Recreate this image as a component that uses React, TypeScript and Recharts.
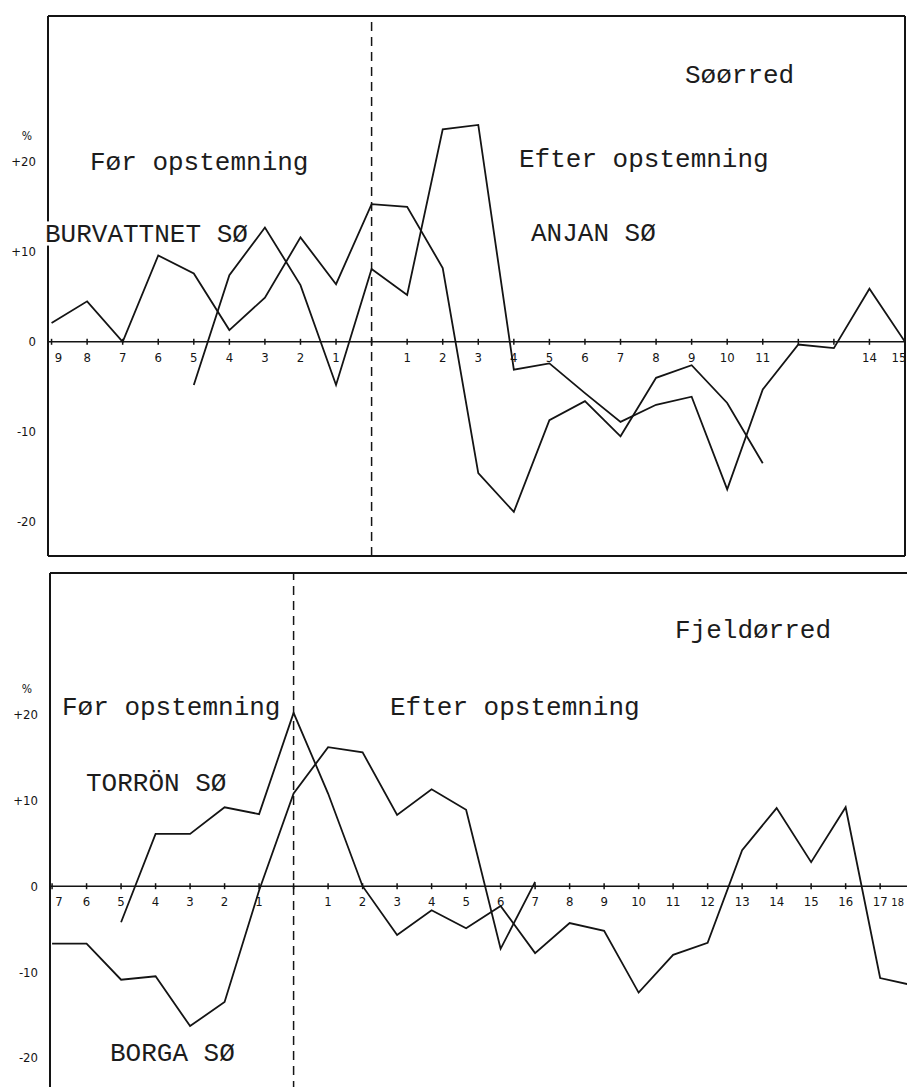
import { LineChart, Line, XAxis, YAxis, ReferenceLine } from 'recharts'

// Søørred (top panel): years before (9..1) and after (1..15) damming
const TOP_X = [-9, -8, -7, -6, -5, -4, -3, -2, -1, 0, 1, 2, 3, 4, 5, 6, 7, 8, 9, 10, 11, 12, 13, 14, 15]
const TOP_TICK_LABELS = ['9', '8', '7', '6', '5', '4', '3', '2', '1', '', '1', '2', '3', '4', '5', '6', '7', '8', '9', '10', '11', '', '', '14', '15']
const BURVATTNET = [2.1, 4.5, 0, 9.6, 7.6, 1.3, 4.9, 11.6, 6.4, 15.3, 15.0, 8.2, -14.6, -18.9, -8.7, -6.6, -10.5, -4.0, -2.6, -6.8, -13.5, null, null, null, null]
const ANJAN = [null, null, null, null, -4.8, 7.4, 12.7, 6.3, -4.8, 8.1, 5.2, 23.6, 24.1, -3.1, -2.4, -5.7, -8.9, -7.0, -6.1, -16.4, -5.3, -0.3, -0.7, 5.9, 0]

// Fjeldørred (bottom panel)
const BOTTOM_X = [-7, -6, -5, -4, -3, -2, -1, 0, 1, 2, 3, 4, 5, 6, 7, 8, 9, 10, 11, 12, 13, 14, 15, 16, 17, 18]
const BOTTOM_TICK_LABELS = ['7', '6', '5', '4', '3', '2', '1', '', '1', '2', '3', '4', '5', '6', '7', '8', '9', '10', '11', '12', '13', '14', '15', '16', '17', '18']
const BORGA = [-6.7, -6.7, -10.9, -10.5, -16.3, -13.5, -0.5, 10.8, 16.2, 15.6, 8.3, 11.3, 8.9, -7.3, 0.5, null, null, null, null, null, null, null, null, null, null, null]
const TORRON = [null, null, -4.2, 6.1, 6.1, 9.2, 8.4, 20.2, 10.8, 0, -5.7, -2.8, -4.9, -2.3, -7.8, -4.3, -5.2, -12.4, -8.0, -6.6, 4.2, 9.1, 2.8, 9.2, -10.7, -11.6]

const Y_TICKS = [-20, -10, 0, 10, 20]
const INK = '#141414'
const TICK_FONT = '"DejaVu Sans Condensed", "Liberation Sans Narrow", "DejaVu Sans", sans-serif'
const TYPE_FONT = '"Liberation Mono", "DejaVu Sans Mono", monospace'
const X_AXIS_H = 20

type PanelProps = {
  top: number
  width: number
  plotBottom: number
  marginTop: number
  marginRight: number
  yAxisWidth: number
  xDomain: [number, number]
  yDomain: [number, number]
  xs: number[]
  tickLabels: string[]
  lastTickShift: number
  lastTickSize: number
  a: (number | null)[]
  b: (number | null)[]
}

function Panel(p: PanelProps) {
  const data = p.xs.map((x, i) => ({ x, a: p.a[i], b: p.b[i] }))
  const height = p.plotBottom + X_AXIS_H
  const plotH = p.plotBottom - p.marginTop
  // the zero line carries the year ticks, so place them there
  const zeroY = p.marginTop + (p.yDomain[1] / (p.yDomain[1] - p.yDomain[0])) * plotH

  const renderTick = (props: any) => {
    const { x, payload, index } = props
    const i = p.xs.indexOf(payload.value)
    const label = i >= 0 ? p.tickLabels[i] : ''
    const last = i === p.xs.length - 1
    let dx = 0
    if (index === 0) dx = 7
    if (last) dx = p.lastTickShift
    return (
      <g>
        <line x1={x} x2={x} y1={zeroY - 3} y2={zeroY + 3} stroke={INK} strokeWidth={1.5} />
        <text
          x={x + dx}
          y={zeroY + 20}
          textAnchor="middle"
          fontSize={last ? p.lastTickSize : 13}
          fontFamily={TICK_FONT}
          fill={INK}
        >
          {label}
        </text>
      </g>
    )
  }

  return (
    <div style={{ position: 'absolute', left: 0, top: p.top }}>
      <LineChart
        width={p.width}
        height={height}
        data={data}
        margin={{ top: p.marginTop, right: p.marginRight, bottom: 0, left: 0 }}
      >
        <XAxis
          type="number"
          dataKey="x"
          domain={p.xDomain}
          ticks={p.xs}
          allowDataOverflow
          height={X_AXIS_H}
          axisLine={false}
          tickLine={false}
          tick={renderTick}
          interval={0}
        />
        <YAxis
          type="number"
          domain={p.yDomain}
          ticks={Y_TICKS}
          allowDataOverflow
          width={p.yAxisWidth}
          axisLine={{ stroke: INK, strokeWidth: 2 }}
          tickLine={false}
          tickSize={0}
          tickMargin={12}
          tickFormatter={(v) => (v > 0 ? `+${v}` : `${v}`)}
          tick={{ fontSize: 13, fontFamily: TICK_FONT, fill: INK }}
        />
        <ReferenceLine y={p.yDomain[1]} stroke={INK} strokeWidth={2} />
        <ReferenceLine y={p.yDomain[0]} stroke={INK} strokeWidth={2} />
        <ReferenceLine x={p.xDomain[1]} stroke={INK} strokeWidth={2} />
        <ReferenceLine y={0} stroke={INK} strokeWidth={1.5} />
        <ReferenceLine x={0} stroke={INK} strokeWidth={1.5} strokeDasharray="9 6" />
        <Line type="linear" dataKey="a" stroke={INK} strokeWidth={1.8} dot={false} isAnimationActive={false} />
        <Line type="linear" dataKey="b" stroke={INK} strokeWidth={1.8} dot={false} isAnimationActive={false} />
      </LineChart>
    </div>
  )
}

const textStyle = { fontFamily: TYPE_FONT, fontSize: 26, fill: '#1c1c1c' }
const halo = { stroke: '#fff', strokeWidth: 7, paintOrder: 'stroke' as const }

export default function App() {
  return (
    <div
      style={{
        position: 'fixed',
        left: 0,
        top: 0,
        width: 907,
        height: 1087,
        overflow: 'hidden',
        background: '#fff',
      }}
    >
      <Panel
        top={0}
        width={907}
        plotBottom={556}
        marginTop={16}
        marginRight={2}
        yAxisWidth={48}
        xDomain={[-9.1, 15]}
        yDomain={[-23.8, 36.2]}
        xs={TOP_X}
        tickLabels={TOP_TICK_LABELS}
        lastTickShift={-6}
        lastTickSize={13}
        a={BURVATTNET}
        b={ANJAN}
      />
      <Panel
        top={560}
        width={940}
        plotBottom={545}
        marginTop={13}
        marginRight={15}
        yAxisWidth={50}
        xDomain={[-7.06, 18.3]}
        yDomain={[-25.5, 36.5]}
        xs={BOTTOM_X}
        tickLabels={BOTTOM_TICK_LABELS}
        lastTickShift={-17}
        lastTickSize={11}
        a={BORGA}
        b={TORRON}
      />
      <svg width={907} height={1087} style={{ position: 'absolute', left: 0, top: 0, pointerEvents: 'none' }}>
        <text x={27} y={140} textAnchor="middle" fontSize={12} fontFamily={TICK_FONT} fill={INK}>%</text>
        <text x={685} y={83} style={textStyle}>Søørred</text>
        <text x={90} y={170} style={textStyle}>Før opstemning</text>
        <text x={519} y={167} style={textStyle}>Efter opstemning</text>
        <text x={45} y={242} style={{ ...textStyle, ...halo }}>BURVATTNET SØ</text>
        <text x={531} y={241} style={textStyle}>ANJAN SØ</text>

        <text x={27} y={693} textAnchor="middle" fontSize={12} fontFamily={TICK_FONT} fill={INK}>%</text>
        <text x={675} y={638} style={textStyle}>Fjeldørred</text>
        <text x={62} y={715} style={textStyle}>Før opstemning</text>
        <text x={390} y={715} style={textStyle}>Efter opstemning</text>
        <text x={86} y={791} style={textStyle}>TORRÖN SØ</text>
        <text x={110} y={1061} style={textStyle}>BORGA SØ</text>
      </svg>
    </div>
  )
}
